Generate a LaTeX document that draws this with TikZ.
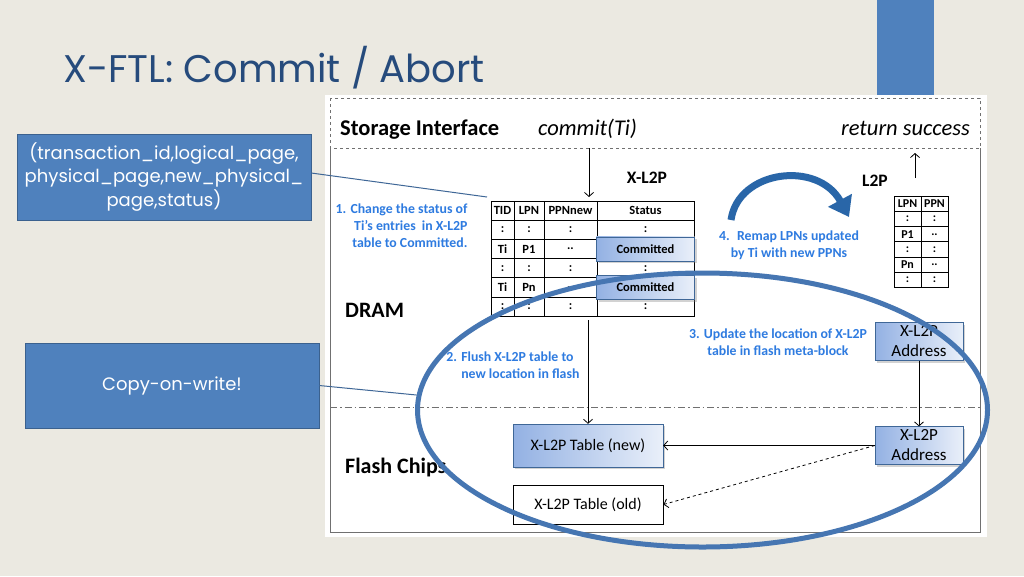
\documentclass[tikz,border=0pt]{standalone}
\usepackage{fontspec}
\setmainfont{Carlito}
\newfontfamily\gothic{Poppins}
\usetikzlibrary{matrix, shadows, shapes.geometric, arrows.meta}

\definecolor{slidebg}{HTML}{EBE9E1}
\definecolor{slideblue}{HTML}{4F81BD}
\definecolor{titleblue}{HTML}{264B7C}
\definecolor{stepblue}{HTML}{2E7BE0}
\definecolor{boxblue}{HTML}{93B1E3}
\definecolor{ringblue}{HTML}{4676B2}
\definecolor{remapblue}{HTML}{2966A8}
\definecolor{framegray}{HTML}{707070}

\begin{document}
\begin{tikzpicture}[x=1pt, y=-1pt,
    callout/.style = {
        draw=slideblue!75!black,
        fill=slideblue,
        text=white,
        align=center,
        font=\gothic\fontsize{18}{23.5}\selectfont,
        minimum width=294pt
    },
    cell/.style = {
        draw,
        line width=0.9pt,
        inner sep=0pt,
        anchor=center,
        font=\bfseries\fontsize{12.5}{13}\selectfont
    },
    stepnote/.style = {
        text=stepblue,
        align=center,
        font=\bfseries\fontsize{13.8}{16.8}\selectfont
    },
    area/.style = {
        inner sep=0pt,
        anchor=base west,
        font=\bfseries\fontsize{22}{26}\selectfont
    },
    call/.style = {
        inner sep=0pt,
        font=\itshape\fontsize{22.5}{26}\selectfont
    },
    shaded/.style = {
        draw=slideblue!80!black,
        left color=boxblue,
        right color=boxblue!20,
        drop shadow={opacity=0.35}
    },
    flow/.style = {line width=0.8pt, -{Straight Barb[length=4pt,width=9pt]}},
    pointer/.style = {line width=1pt, slideblue!80!black},
    ring/.style = {
        draw=ringblue,
        line width=5pt,
        ellipse,
        inner sep=0pt,
        minimum width=570pt,
        minimum height=274pt
    }
]
    % Slide background
    \fill[slidebg] (0,0) rectangle (1024,576);
    \fill[slideblue] (877,0) rectangle (934,95);
    \node[anchor=base west, inner sep=0pt, text=titleblue, font=\gothic\fontsize{38.5}{46}\selectfont] (title) at (63,82) {X-FTL: Commit / Abort};

    % Figure panel
    \fill[white] (325,95) rectangle (987,537);
    \draw[framegray, dashed] (330,98) rectangle (980,148);
    \draw[framegray] (330,148) -- (330,532) -- (980,532) -- (980,148);
    \draw[framegray, dash pattern=on 7pt off 3pt on 1.5pt off 3pt] (330,407) -- (980,407);

    \node[area, font=\bfseries\fontsize{22.5}{26}\selectfont] (iface) at (340,135) {Storage Interface};
    \node[call, anchor=base west] (commit) at (538,135) {commit(Ti)};
    \node[call, anchor=base east] (success) at (970,135) {return success};
    \node[area] (dram) at (345,317) {DRAM};
    \node[area] (flash) at (345,473) {Flash Chips};

    % X-L2P table in DRAM
    \node[font=\bfseries\fontsize{17.5}{20}\selectfont] (xl2plabel) at (647,178) {X-L2P};
    \matrix (xl2p) [matrix of nodes, anchor=north west, nodes in empty cells,
        nodes={cell, minimum height=19.2pt}, column sep=-0.9pt, row sep=-0.9pt,
        column 1/.style={nodes={minimum width=23pt}},
        column 2/.style={nodes={minimum width=30pt}},
        column 3/.style={nodes={minimum width=53pt}},
        column 4/.style={nodes={minimum width=97pt}}] at (487,197) {
        TID & LPN & PPNnew & Status \\
        : & : & : & : \\
        Ti & P1 & .. & \\
        : & : & : & : \\
        Ti & Pn & .. & \\
        : & : & : & : \\
    };
    \node[cell, shaded, minimum width=98pt, minimum height=24pt] (com1) at (xl2p-3-4) {Committed};
    \node[cell, shaded, minimum width=98pt, minimum height=24pt] (com2) at (xl2p-5-4) {Committed};

    % L2P table
    \node[font=\bfseries\fontsize{17.5}{20}\selectfont] (l2plabel) at (875,181) {L2P};
    \matrix (l2p) [matrix of nodes, anchor=north west, nodes in empty cells,
        nodes={cell, minimum height=15.3pt, font=\bfseries\fontsize{12}{13}\selectfont},
        column sep=-0.9pt, row sep=-0.9pt,
        column 1/.style={nodes={minimum width=27pt}},
        column 2/.style={nodes={minimum width=27pt}}] at (890,192) {
        LPN & PPN \\
        : & : \\
        P1 & .. \\
        : & : \\
        Pn & .. \\
        : & : \\
    };

    % Step notes
    \node[stepnote, align=right, anchor=east] (step1) at (471,226) {1. Change the status of\\Ti’s entries~ in X-L2P\\table to Committed.};
    \node[stepnote] (step2) at (510,365) {2. Flush X-L2P table to\\\hspace*{1.5em}new location in flash};
    \node[stepnote] (step3) at (778,342) {3. Update the location of X-L2P\\table in flash meta-block};
    \node[stepnote] (step4) at (789,245) {4.~ Remap LPNs updated\\by Ti with new PPNs};

    % Flash side
    \node[shaded, minimum width=88pt, minimum height=37pt, align=center, font=\fontsize{17}{20}\selectfont] (addrtop) at (919,341.5) {X-L2P\\Address};
    \node[shaded, minimum width=88pt, minimum height=37pt, align=center, font=\fontsize{17}{20}\selectfont] (addrbot) at (919,445.5) {X-L2P\\Address};
    \node[shaded, minimum width=150pt, minimum height=43pt, font=\fontsize{16}{20}\selectfont] (newtab) at (588,445.5) {X-L2P Table (new)};
    \node[draw, line width=0.8pt, minimum width=150pt, minimum height=39pt, font=\fontsize{16}{20}\selectfont] (oldtab) at (588,504.5) {X-L2P Table (old)};

    % Arrows
    \coordinate (cin) at (589,148);
    \coordinate (rfoot) at (915,178);
    \coordinate (rtip) at (915,153);
    \draw[flow] (cin) -- (cin |- xl2p.north);
    \draw[flow] (rfoot) -- (rtip);
    \draw[flow] (newtab.north |- xl2p.south) -- (newtab.north);
    \draw[flow] (addrtop) -- (addrbot);
    \draw[flow] (addrbot) -- (newtab);
    \draw[flow, dashed] (addrbot.west) -- (oldtab.east);
    \draw[remapblue, line width=7pt, -{Triangle[length=19pt,width=26pt]}] (731,220) .. controls (738,170) and (818,160) .. (849,217);

    % Highlight and callouts
    \node[callout, minimum height=86pt] (idbox) at (164,177) {(transaction\_id,logical\_page,\\physical\_page,new\_physical\_\\page,status)};
    \node[callout, minimum height=85pt] (cowbox) at (172,385.5) {Copy-on-write!};
    \node[ring] (ring) at (702.5,410) {};
    \draw[pointer] ([yshift=4pt]idbox.east) -- (xl2p.north west);
    \draw[pointer] (cowbox.east) -- (ring.177);
\end{tikzpicture}
\end{document}
